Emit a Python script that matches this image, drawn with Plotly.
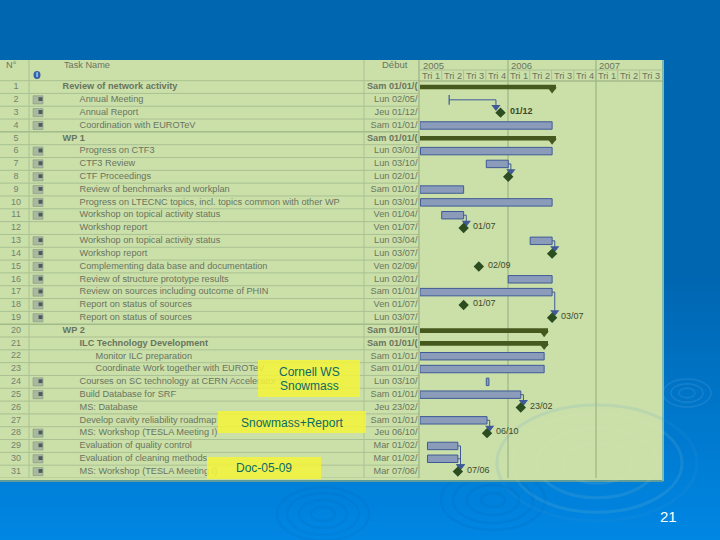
import pandas as pd
import plotly.graph_objects as go

W, H = 720, 540

# rows of the task table
TASK_NAMES = [
    "Review of network activity", "Annual Meeting", "Annual Report", "Coordination with EUROTeV",
    "WP 1", "Progress on CTF3", "CTF3 Review", "CTF Proceedings", "Review of benchmarks and workplan",
    "Progress on LTECNC topics, incl. topics common with other WP", "Workshop on topical activity status",
    "Workshop report", "Workshop on topical activity status", "Workshop report",
    "Complementing data base and documentation", "Review of structure prototype results",
    "Review on sources including outcome of PHIN", "Report on status of sources", "Report on status of sources",
    "WP 2", "ILC Technology Development", "Monitor ILC preparation", "Coordinate Work together with EUROTeV",
    "Courses on SC technology at CERN Accelerator School", "Build Database for SRF", "MS: Database",
    "Develop cavity reliability roadmap", "MS: Workshop (TESLA Meeting I)", "Evaluation of quality control",
    "Evaluation of cleaning methods", "MS: Workshop (TESLA Meeting I)",
]
TASK_LEVELS = [0, 1, 1, 1, 0, 1, 1, 1, 1, 1, 1, 1, 1, 1, 1, 1, 1, 1, 1, 0, 1, 2, 2, 1, 1, 1, 1, 1, 1, 1, 1]
START_LABELS = [
    "Sam 01/01/(", "Lun 02/05/", "Jeu 01/12/", "Sam 01/01/", "Sam 01/01/(", "Lun 03/01/", "Lun 03/10/",
    "Lun 02/01/", "Sam 01/01/", "Lun 03/01/", "Ven 01/04/", "Ven 01/07/", "Lun 03/04/", "Lun 03/07/",
    "Ven 02/09/", "Lun 02/01/", "Sam 01/01/", "Ven 01/07/", "Lun 03/07/", "Sam 01/01/(", "Sam 01/01/(",
    "Sam 01/01/", "Sam 01/01/", "Lun 03/10/", "Sam 01/01/", "Jeu 23/02/", "Sam 01/01/", "Jeu 06/10/",
    "Mar 01/02/", "Mar 01/02/", "Mar 07/06/",
]
BOLD_ROWS = [1, 5, 20, 21]
ICON_ROWS = [2, 3, 4, 6, 7, 8, 9, 10, 11, 13, 14, 15, 16, 17, 18, 19, 24, 25, 28, 29, 30, 31]

# gantt values
BAR_ROWS = [4, 6, 7, 9, 10, 11, 13, 16, 17, 22, 23, 24, 25, 27, 29, 30]
BAR_STARTS = [
    "2005-01-01", "2005-01-03", "2005-10-03", "2005-01-01", "2005-01-03", "2005-04-01", "2006-04-03", "2006-01-02",
    "2005-01-01", "2005-01-01", "2005-01-01", "2005-10-03", "2005-01-01", "2005-01-01", "2005-02-01", "2005-02-01",
]
BAR_ENDS = [
    "2006-07-03", "2006-07-03", "2006-01-02", "2005-07-01", "2006-07-03", "2005-07-01", "2006-07-03", "2006-07-03",
    "2006-07-03", "2006-05-31", "2006-05-31", "2005-10-14", "2006-02-23", "2005-10-06", "2005-06-07", "2005-06-07",
]
SUMMARY_ROWS = [1, 5, 20, 21]
SUMMARY_STARTS = ["2005-01-01", "2005-01-01", "2005-01-01", "2005-01-01"]
SUMMARY_ENDS = ["2006-07-03", "2006-07-03", "2006-05-31", "2006-05-31"]
SUMMARY_CAPS = ["2006-07-19", "2006-07-19", "2006-06-16", "2006-06-16"]
RANGE_ROW = 2
RANGE_START = "2005-05-02"
RANGE_END = "2005-11-12"
MILESTONE_ROWS = [3, 8, 12, 14, 15, 18, 19, 26, 28, 31]
MILESTONE_DATES = [
    "2005-12-01", "2006-01-02", "2005-07-01", "2006-07-03", "2005-09-02",
    "2005-07-01", "2006-07-03", "2006-02-23", "2005-10-06", "2005-06-07",
]
MILESTONE_LABELS = ["01/12", "", "01/07", "", "02/09", "01/07", "03/07", "23/02", "06/10", "07/06"]
LINK_FROM = [7, 11, 13, 17, 25, 27, 29, 30]
LINK_TO = [8, 12, 14, 19, 26, 28, 31, 31]

YEARS = ["2005", "2006", "2007"]
YEAR_STARTS = ["2005-01-01", "2006-01-01", "2007-01-01"]
QUARTER_LABELS = ["Tri 1", "Tri 2", "Tri 3", "Tri 4", "Tri 1", "Tri 2", "Tri 3", "Tri 4", "Tri 1", "Tri 2", "Tri 3"]
QUARTER_STARTS = [
    "2005-01-01", "2005-04-01", "2005-07-01", "2005-10-01", "2006-01-01", "2006-04-01",
    "2006-07-01", "2006-10-01", "2007-01-01", "2007-04-01", "2007-07-01", "2007-10-01",
]

PANEL = "#cbdfa9"
GRID = "#a9c193"
TEXT = "#69755f"
DARK = "#3d4a2a"
BAR_FILL = "#8b9cbb"
BAR_LINE = "#3f5a96"
SUMMARY = "#45591f"
MILESTONE = "#2c4d20"
YELLOW = "#f3f33a"
NOTE = "#0c6a66"


def px(x):
    return x / W


def py(y):
    return 1 - y / H


def rect(x0, y0, x1, y1, fill, layer="below", opacity=1):
    return dict(type="rect", xref="paper", yref="paper", x0=px(x0), x1=px(x1), y0=py(y0), y1=py(y1),
                fillcolor=fill, line_width=0, layer=layer, opacity=opacity)


def vline(x, y0, y1, color=GRID):
    return dict(type="line", xref="paper", yref="paper", x0=px(x), x1=px(x), y0=py(y0), y1=py(y1),
                line=dict(color=color, width=1), layer="below")


def shift(date, days):
    return (pd.Timestamp(date) + pd.Timedelta(days=days)).strftime("%Y-%m-%d")


def duration(starts, ends):
    return [(pd.Timestamp(e) - pd.Timestamp(s)).total_seconds() * 1000 for s, e in zip(starts, ends)]


def ripple(cx, cy, radii, color, opacity, width=2.5):
    rings = []
    for rx in radii:
        ry = rx * 0.58
        rings.append(dict(type="circle", xref="paper", yref="paper", x0=px(cx - rx), x1=px(cx + rx),
                          y0=py(cy + ry), y1=py(cy - ry), line=dict(color=color, width=width),
                          opacity=opacity, layer="below"))
    return rings


shapes = [rect(0, 0, W, H, "#0066b0")]
# slide background gets lighter towards the bottom
for i in range(40):
    t = i / 39
    color = f"rgb(0,{int(102 + 34 * t)},{int(176 + 53 * t)})"
    shapes.append(rect(0, 270 + i * 7, W, H, color))

shapes += ripple(323, 514, [12, 24, 36, 46], "#0068b8", 0.16)
shapes += ripple(493, 500, [12, 26, 40, 52], "#0068b8", 0.18)
shapes += ripple(687, 393, [8, 16, 24], "#3f98d8", 0.35, 1.5)

shapes.append(rect(0, 60, 663, 481, PANEL))
shapes.append(rect(0, 480, 663, 482, "#5f9c98"))
shapes.append(rect(662, 60, 664, 481, "#7fb9b4"))
shapes += ripple(597, 463, [35, 60, 85], "#e6f0c8", 0.09, 3)
shapes += ripple(597, 463, [100], "#3f98d8", 0.12, 3)

# table and timeline grid
for r in range(0, 32):
    shapes.append(dict(type="line", xref="paper", yref="y", x0=0, x1=px(419), y0=r + 0.5, y1=r + 0.5,
                       line=dict(color="#8fa97a" if r in (0, 4, 19) else GRID, width=1), layer="below"))
shapes.append(vline(29, 60, 478))
shapes.append(vline(364, 60, 478))
shapes.append(vline(419, 60, 478, "#8fa97a"))
shapes.append(dict(type="line", xref="paper", yref="paper", x0=px(419), x1=px(663), y0=py(70), y1=py(70),
                   line=dict(color=GRID, width=1), layer="below"))
shapes.append(dict(type="line", xref="paper", yref="paper", x0=px(419), x1=px(663), y0=py(81), y1=py(81),
                   line=dict(color="#8fa97a", width=1), layer="below"))
for q in QUARTER_STARTS[1:-1]:
    shapes.append(dict(type="line", xref="x", yref="paper", x0=q, x1=q, y0=py(81), y1=py(70),
                       line=dict(color=GRID, width=1), layer="below"))
for y in YEAR_STARTS[1:]:
    shapes.append(dict(type="line", xref="x", yref="paper", x0=y, x1=y, y0=py(478), y1=py(60),
                       line=dict(color="#9ab586", width=1.2), layer="below"))

# little calendar icons next to the task names
for r in ICON_ROWS:
    shapes.append(dict(type="rect", xref="paper", yref="y", x0=px(33), x1=px(43), y0=r - 0.32, y1=r + 0.32,
                       fillcolor="#a9b9a0", line=dict(color="#7d8d7d", width=0.5), layer="below"))
    shapes.append(dict(type="rect", xref="paper", yref="y", x0=px(38.5), x1=px(42.5), y0=r - 0.2, y1=r + 0.1,
                       fillcolor="#4d5c5a", line_width=0, layer="below"))

# yellow notes pasted over the table
NOTE_BOXES = [(258, 360, 360, 397), (218, 411, 366, 433), (207, 457, 321, 479)]
for x0, y0, x1, y1 in NOTE_BOXES:
    shapes.append(rect(x0, y0, x1, y1, YELLOW, layer="above", opacity=0.86))

fig = go.Figure()

rows = list(range(1, len(TASK_NAMES) + 1))
for level, x in zip([0, 1, 2], [62.5, 79.5, 95.5]):
    level_rows = [r for r in rows if TASK_LEVELS[r - 1] == level]
    fig.add_trace(go.Scatter(
        x=[x] * len(level_rows), y=level_rows, xaxis="x2", yaxis="y", mode="text", textposition="middle right",
        text=[f"<b>{TASK_NAMES[r - 1]}</b>" if r in BOLD_ROWS else TASK_NAMES[r - 1] for r in level_rows],
        textfont=dict(family="Liberation Sans", size=9.2, color=TEXT), cliponaxis=False, hoverinfo="skip",
    ))
fig.add_trace(go.Scatter(
    x=[16] * len(rows), y=rows, xaxis="x2", yaxis="y", mode="text", text=[str(r) for r in rows],
    textfont=dict(family="Liberation Sans", size=9, color="#75826f"), cliponaxis=False, hoverinfo="skip",
))
fig.add_trace(go.Scatter(
    x=[417.5] * len(rows), y=rows, xaxis="x2", yaxis="y", mode="text", textposition="middle left",
    text=[f"<b>{s}</b>" if r in BOLD_ROWS else s for r, s in zip(rows, START_LABELS)],
    textfont=dict(family="Liberation Sans", size=9.2, color=TEXT), cliponaxis=False, hoverinfo="skip",
))

fig.add_trace(go.Bar(
    y=BAR_ROWS, x=duration(BAR_STARTS, BAR_ENDS), base=BAR_STARTS, orientation="h", width=0.58,
    marker=dict(color=BAR_FILL, line=dict(color=BAR_LINE, width=1)),
))
fig.add_trace(go.Bar(
    y=SUMMARY_ROWS, x=duration(SUMMARY_STARTS, SUMMARY_CAPS), base=SUMMARY_STARTS, orientation="h", width=0.36,
    marker=dict(color=SUMMARY, line_width=0),
))
fig.add_trace(go.Scatter(
    x=SUMMARY_ENDS, y=[r + 0.2 for r in SUMMARY_ROWS], mode="markers",
    marker=dict(symbol="triangle-down", size=8, color=SUMMARY),
))

# thin range with a start tick for the annual meeting
fig.add_trace(go.Scatter(
    x=[RANGE_START, RANGE_END, RANGE_END], y=[RANGE_ROW, RANGE_ROW, RANGE_ROW + 0.5], mode="lines",
    line=dict(color=BAR_LINE, width=1),
))
fig.add_trace(go.Scatter(
    x=[RANGE_START], y=[RANGE_ROW], mode="markers",
    marker=dict(symbol="line-ns", size=7, line=dict(color=BAR_LINE, width=1.2)),
))

# links from the end of a task down to its milestone
link_x, link_y, head_x, head_y = [], [], [RANGE_END], [RANGE_ROW + 0.55]
ends = dict(zip(BAR_ROWS, BAR_ENDS))
for src, dst in zip(LINK_FROM, LINK_TO):
    bend = shift(ends[src], 11)
    link_x += [ends[src], bend, bend, None]
    link_y += [src, src, dst - 0.45, None]
    head_x.append(bend)
    head_y.append(dst - 0.42)
fig.add_trace(go.Scatter(x=link_x, y=link_y, mode="lines", line=dict(color=BAR_LINE, width=1), connectgaps=False))
fig.add_trace(go.Scatter(
    x=head_x, y=head_y, mode="markers", marker=dict(symbol="triangle-down", size=8, color=BAR_LINE),
))
fig.add_trace(go.Scatter(
    x=MILESTONE_DATES, y=MILESTONE_ROWS, mode="markers", marker=dict(symbol="diamond", size=8, color=MILESTONE),
))

annotations = []


def add_text(text, x, y, size=9.2, color=TEXT, anchor="center", **kw):
    annotations.append(dict(text=text, x=x, y=y, xref=kw.pop("xref", "paper"), yref=kw.pop("yref", "paper"),
                            showarrow=False, xanchor=anchor, yanchor="middle",
                            font=dict(family="Liberation Sans", size=size, color=color), **kw))


add_text("N°", px(11), py(65))
add_text("Task Name", px(62), py(65), anchor="left")
add_text("Début", px(395), py(65), size=9.5)
shapes.append(dict(type="circle", xref="paper", yref="paper", x0=px(33.5), x1=px(40.5), y0=py(79), y1=py(71),
                   fillcolor="#3d5ea6", line_width=0))
add_text("<b>i</b>", px(37), py(75), size=7, color="#dfe8f0")

for label, start in zip(YEARS, YEAR_STARTS):
    add_text(label, shift(start, 4), py(65.5), size=9.5, anchor="left", xref="x")
for i, label in enumerate(QUARTER_LABELS):
    s, e = pd.Timestamp(QUARTER_STARTS[i]), pd.Timestamp(QUARTER_STARTS[i + 1])
    add_text(label, (s + (e - s) / 2).strftime("%Y-%m-%d"), py(75.5), size=9.2, xref="x")

for row, date, label in zip(MILESTONE_ROWS, MILESTONE_DATES, MILESTONE_LABELS):
    if label:
        add_text(f"<b>{label}</b>" if row == 3 else label, date, row - 0.15, size=9, color=DARK, anchor="left",
                 xref="x", yref="y", xshift=7)

add_text("Cornell WS", px(309), py(372), size=12, color=NOTE)
add_text("Snowmass", px(309), py(386), size=12, color=NOTE)
add_text("Snowmass+Report", px(292), py(423), size=12, color=NOTE)
add_text("Doc-05-09", px(264), py(468), size=12, color=NOTE)
add_text("21", px(668), py(516), size=15, color="white")

fig.update_layout(
    width=W, height=H, autosize=False, margin=dict(l=0, r=0, t=0, b=0), showlegend=False,
    paper_bgcolor="#0066b0", plot_bgcolor="rgba(0,0,0,0)", barmode="overlay", shapes=shapes, annotations=annotations,
    xaxis=dict(type="date", domain=[px(420), px(663)], range=["2005-01-01", "2007-10-06"], visible=False, anchor="y"),
    xaxis2=dict(domain=[0, 1], range=[0, W], visible=False, anchor="y"),
    yaxis=dict(domain=[py(478), py(80.6)], range=[31.5, 0.5], visible=False, anchor="x"),
)
# the page's default body margin would push the slide 8px in
fig.write_html("out.html", config=dict(displayModeBar=False),
               post_script="document.body.style.margin='0';")
